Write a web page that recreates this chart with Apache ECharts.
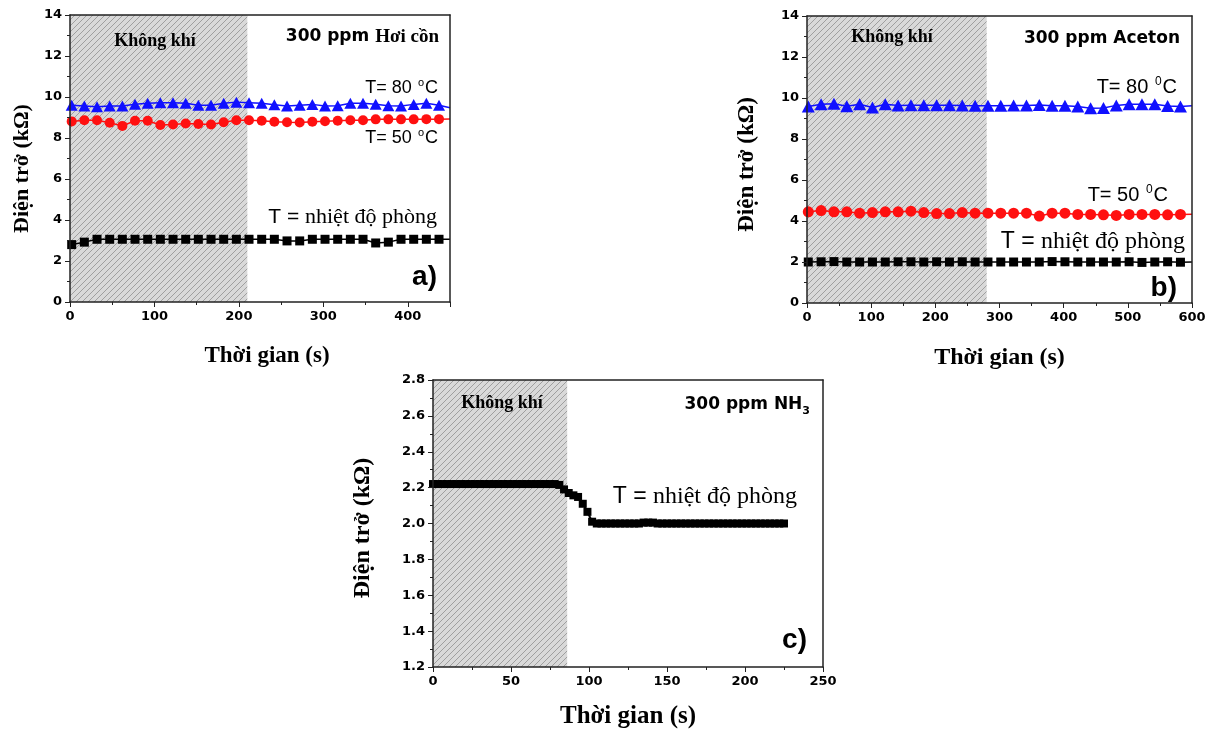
<!DOCTYPE html>
<html>
<head>
<meta charset="utf-8">
<script src="https://cdn.jsdelivr.net/npm/echarts@6/dist/echarts.min.js"></script>
<style>
  html, body { margin: 0; padding: 0; background: #fff; }
  #chart { width: 1212px; height: 731px; }
</style>
</head>
<body>
<div id="chart"></div>
<script>
// a) 300 ppm Hơi cồn
const timeA = [2, 17, 32, 47, 62, 77, 92, 107, 122, 137, 152, 167, 182, 197, 212, 227, 242, 257, 272, 287, 302, 317, 332, 347, 362, 377, 392, 407, 422, 437]
const roomA = [2.80, 2.92, 3.06, 3.06, 3.06, 3.06, 3.06, 3.06, 3.06, 3.06, 3.06, 3.06, 3.06, 3.06, 3.06, 3.06, 3.06, 2.98, 2.98, 3.06, 3.06, 3.06, 3.06, 3.06, 2.88, 2.92, 3.06, 3.06, 3.06, 3.06]
const t50A = [8.81, 8.87, 8.87, 8.74, 8.59, 8.84, 8.84, 8.63, 8.66, 8.71, 8.68, 8.66, 8.77, 8.87, 8.87, 8.84, 8.79, 8.77, 8.76, 8.79, 8.82, 8.84, 8.87, 8.87, 8.91, 8.91, 8.91, 8.91, 8.92, 8.92]
const t80A = [9.60, 9.56, 9.52, 9.56, 9.56, 9.65, 9.69, 9.72, 9.72, 9.69, 9.60, 9.60, 9.69, 9.75, 9.72, 9.69, 9.62, 9.56, 9.60, 9.64, 9.56, 9.57, 9.69, 9.69, 9.65, 9.57, 9.56, 9.64, 9.69, 9.60]
const lineEndA = [450, 3.06, 8.93, 9.48] // x, room, 50C, 80C : lines run on to the frame
const airEndA = 210

// b) 300 ppm Aceton
const timeB = [2, 22, 42, 62, 82, 102, 122, 142, 162, 182, 202, 222, 242, 262, 282, 302, 322, 342, 362, 382, 402, 422, 442, 462, 482, 502, 522, 542, 562, 582]
const roomB = [2.00, 2.01, 2.02, 2.00, 2.00, 2.00, 2.00, 2.01, 2.01, 2.00, 2.01, 2.00, 2.01, 2.00, 2.00, 2.00, 2.00, 2.00, 2.00, 2.02, 2.01, 2.00, 2.00, 2.00, 2.00, 2.01, 1.98, 2.00, 2.01, 1.99]
const t50B = [4.45, 4.51, 4.45, 4.45, 4.38, 4.41, 4.45, 4.45, 4.48, 4.41, 4.36, 4.36, 4.41, 4.38, 4.38, 4.38, 4.38, 4.38, 4.24, 4.38, 4.38, 4.32, 4.32, 4.30, 4.27, 4.32, 4.32, 4.32, 4.30, 4.32]
const t80B = [9.58, 9.70, 9.72, 9.60, 9.70, 9.54, 9.70, 9.64, 9.65, 9.65, 9.65, 9.65, 9.63, 9.62, 9.62, 9.62, 9.64, 9.64, 9.66, 9.62, 9.62, 9.58, 9.50, 9.51, 9.64, 9.69, 9.70, 9.69, 9.61, 9.58]
const lineEndB = [600, 2.00, 4.33, 9.62]
const airEndB = 280

// c) 300 ppm NH3
const timeC = [0, 3, 6, 9, 12, 15, 18, 21, 24, 27, 30, 33, 36, 39, 42, 45, 48, 51, 54, 57, 60, 63, 66, 69, 72, 75, 78, 81, 84, 87, 90, 93, 96, 99, 102, 105, 108, 111, 114, 117, 120, 123, 126, 129, 132, 135, 138, 141, 144, 147, 150, 153, 156, 159, 162, 165, 168, 171, 174, 177, 180, 183, 186, 189, 192, 195, 198, 201, 204, 207, 210, 213, 216, 219, 222, 225]
const roomC = [2.22, 2.22, 2.22, 2.22, 2.22, 2.22, 2.22, 2.22, 2.22, 2.22, 2.22, 2.22, 2.22, 2.22, 2.22, 2.22, 2.22, 2.22, 2.22, 2.22, 2.22, 2.22, 2.22, 2.22, 2.22, 2.22, 2.22, 2.215, 2.19, 2.17, 2.157, 2.148, 2.11, 2.065, 2.01, 2.00, 2.00, 2.00, 2.00, 2.00, 2.00, 2.00, 2.00, 2.00, 2.00, 2.005, 2.005, 2.005, 2.00, 2.00, 2.00, 2.00, 2.00, 2.00, 2.00, 2.00, 2.00, 2.00, 2.00, 2.00, 2.00, 2.00, 2.00, 2.00, 2.00, 2.00, 2.00, 2.00, 2.00, 2.00, 2.00, 2.00, 2.00, 2.00, 2.00, 2.00]
const airEndC = 86

const SANS = 'DejaVu Sans'
const ARIAL = 'Liberation Sans'
const SERIF = 'Liberation Serif'
const BLUE = '#1010ff'
const RED = '#ff1010'

// nền gạch chéo cho vùng "Không khí"
function hatch() {
  const c = document.createElement('canvas')
  c.width = 6
  c.height = 6
  const g = c.getContext('2d')
  g.fillStyle = '#d9d9d9'
  g.fillRect(0, 0, 6, 6)
  g.strokeStyle = '#999'
  g.lineWidth = 0.9
  g.beginPath()
  g.moveTo(-1, 7); g.lineTo(7, -1)
  g.moveTo(5, 7); g.lineTo(7, 5)
  g.moveTo(-1, 1); g.lineTo(1, -1)
  g.stroke()
  return c
}
const hatchFill = { image: hatch(), repeat: 'repeat' }

function pts(xs, ys, end) {
  const d = xs.map((x, i) => [x, ys[i]])
  if (end)
    d.push({ value: end, symbol: 'none' })
  return d
}

const grids = [
  { left: 70, top: 15, width: 380, height: 287 },
  { left: 807, top: 16, width: 385, height: 287 },
  { left: 433, top: 380, width: 390, height: 287 },
]

const axisLine = { lineStyle: { color: '#222', width: 1.5 } }
const tickLabel = { color: '#000', fontFamily: SANS, fontWeight: 'bold', fontSize: 13 }

function mainX(gi, max, interval, gap, size, showMax, pad) {
  return {
    gridIndex: gi, type: 'value', min: 0, max, interval, z: 5,
    name: 'Thời gian (s)', nameLocation: 'middle', nameGap: gap,
    nameTextStyle: { fontFamily: SERIF, fontWeight: 'bold', fontSize: size, color: '#000', padding: [0, 0, 0, pad || 0] },
    axisLine: { ...axisLine, onZero: false },
    axisTick: { length: 5, lineStyle: { color: '#222' } },
    minorTick: { show: true, splitNumber: 2, length: 3, lineStyle: { color: '#222' } },
    axisLabel: { ...tickLabel, margin: 8, showMaxLabel: showMax },
    splitLine: { show: false },
  }
}
function mainY(gi, min, max, interval, gap, size, pad, fmt) {
  return {
    gridIndex: gi, type: 'value', min, max, interval, z: 5,
    name: 'Điện trở (kΩ)', nameLocation: 'middle', nameGap: gap,
    nameTextStyle: { fontFamily: SERIF, fontWeight: 'bold', fontSize: size, color: '#000', padding: [0, pad, 0, 0] },
    axisLine: { ...axisLine, onZero: false },
    axisTick: { length: 5, lineStyle: { color: '#222' } },
    minorTick: { show: true, splitNumber: 2, length: 3, lineStyle: { color: '#222' } },
    axisLabel: { ...tickLabel, margin: 8, formatter: fmt },
    splitLine: { show: false },
  }
}
// khung trên / phải
function frameX(gi, max) {
  return { gridIndex: gi, type: 'value', position: 'top', min: 0, max, z: 5, axisLine: { ...axisLine, onZero: false }, axisTick: { show: false }, axisLabel: { show: false }, splitLine: { show: false } }
}
function frameY(gi, min, max) {
  return { gridIndex: gi, type: 'value', position: 'right', min, max, z: 5, axisLine: { ...axisLine, onZero: false }, axisTick: { show: false }, axisLabel: { show: false }, splitLine: { show: false } }
}

function airBand(xi, yi, end) {
  return {
    type: 'line', xAxisIndex: xi, yAxisIndex: yi, data: [], z: 1, silent: true,
    markArea: { silent: true, itemStyle: { color: hatchFill }, data: [[{ xAxis: 0 }, { xAxis: end }]] },
  }
}
function curve(xi, yi, data, color, symbol, size, lw) {
  return {
    type: 'line', xAxisIndex: xi, yAxisIndex: yi, data, z: 3,
    symbol, symbolSize: size, showSymbol: true, showAllSymbol: true,
    lineStyle: { color, width: lw || 1.5 },
    itemStyle: { color, borderWidth: 0 },
    animation: false,
  }
}

function label(x, y, text, rich, align) {
  return { type: 'text', x, y, z: 20, style: { text, rich, align: align || 'right', verticalAlign: 'middle' } }
}
const rich = {
  k: { fontFamily: SERIF, fontWeight: 'bold', fontSize: 18, fill: '#000' },
  s: { fontFamily: SANS, fontWeight: 'bold', fontSize: 17, fill: '#000' },
  sb: { fontFamily: SERIF, fontWeight: 'bold', fontSize: 19, fill: '#000' },
  sub: { fontFamily: SANS, fontWeight: 'bold', fontSize: 11, fill: '#000', padding: [12, 0, 0, 0] },
  t: { fontFamily: ARIAL, fontSize: 18, fill: '#000' },
  sup: { fontFamily: ARIAL, fontSize: 11, fill: '#000', padding: [0, 1, 10, 1] },
  t2: { fontFamily: ARIAL, fontSize: 20, fill: '#000' },
  sup2: { fontFamily: ARIAL, fontSize: 12, fill: '#000', padding: [0, 1, 11, 1] },
  tt: { fontFamily: ARIAL, fontSize: 21, fill: '#000' },
  tn: { fontFamily: SERIF, fontSize: 22, fill: '#000' },
  tb: { fontFamily: ARIAL, fontSize: 23, fill: '#000' },
  tbn: { fontFamily: SERIF, fontSize: 24, fill: '#000' },
  p: { fontFamily: ARIAL, fontWeight: 'bold', fontSize: 28, fill: '#000' },
}

const option = {
  backgroundColor: '#fff',
  animation: false,
  grid: grids,
  xAxis: [
    mainX(0, 450, 100, 43, 23, false, 14), frameX(0, 450),
    mainX(1, 600, 100, 43, 24, true), frameX(1, 600),
    mainX(2, 250, 50, 37, 25, true), frameX(2, 250),
  ],
  yAxis: [
    mainY(0, 0, 14, 2, 37, 22, 20), frameY(0, 0, 14),
    mainY(1, 0, 14, 2, 48, 23, 10), frameY(1, 0, 14),
    mainY(2, 1.2, 2.8, 0.2, 58, 24, 9, v => v.toFixed(1)), frameY(2, 1.2, 2.8),
  ],
  series: [
    airBand(0, 0, airEndA),
    curve(0, 0, pts(timeA, roomA, [lineEndA[0], lineEndA[1]]), '#000', 'rect', 9),
    curve(0, 0, pts(timeA, t50A, [lineEndA[0], lineEndA[2]]), RED, 'circle', 10),
    curve(0, 0, pts(timeA, t80A, [lineEndA[0], lineEndA[3]]), BLUE, 'triangle', [12, 11]),
    airBand(2, 2, airEndB),
    curve(2, 2, pts(timeB, roomB, [lineEndB[0], lineEndB[1]]), '#000', 'rect', 9),
    curve(2, 2, pts(timeB, t50B, [lineEndB[0], lineEndB[2]]), RED, 'circle', 11),
    curve(2, 2, pts(timeB, t80B, [lineEndB[0], lineEndB[3]]), BLUE, 'triangle', [13, 12]),
    airBand(4, 4, airEndC),
    curve(4, 4, pts(timeC, roomC), '#000', 'rect', 8, 2),
  ],
  graphic: [
    // a
    label(155, 41, '{k|Không khí}', rich, 'center'),
    label(439, 37, '{s|300 ppm }{sb|Hơi cồn}', rich),
    label(438, 88, '{t|T= 80 }{sup|o}{t|C}', rich),
    label(438, 138, '{t|T= 50 }{sup|o}{t|C}', rich),
    label(437, 217, '{tt|T = }{tn|nhiệt độ phòng}', rich),
    label(437, 277, '{p|a)}', rich),
    // b
    label(892, 37, '{k|Không khí}', rich, 'center'),
    label(1180, 39, '{s|300 ppm Aceton}', rich),
    label(1177, 87, '{t2|T= 80 }{sup2|0}{t2|C}', rich),
    label(1168, 195, '{t2|T= 50 }{sup2|0}{t2|C}', rich),
    label(1185, 242, '{tb|T = }{tbn|nhiệt độ phòng}', rich),
    label(1177, 288, '{p|b)}', rich),
    // c
    label(502, 403, '{k|Không khí}', rich, 'center'),
    label(810, 405, '{s|300 ppm NH}{sub|3}', rich),
    label(797, 497, '{tb|T = }{tbn|nhiệt độ phòng}', rich),
    label(807, 640, '{p|c)}', rich),
  ],
}

const chart = echarts.init(document.getElementById('chart'))
chart.setOption(option)
</script>
</body>
</html>
